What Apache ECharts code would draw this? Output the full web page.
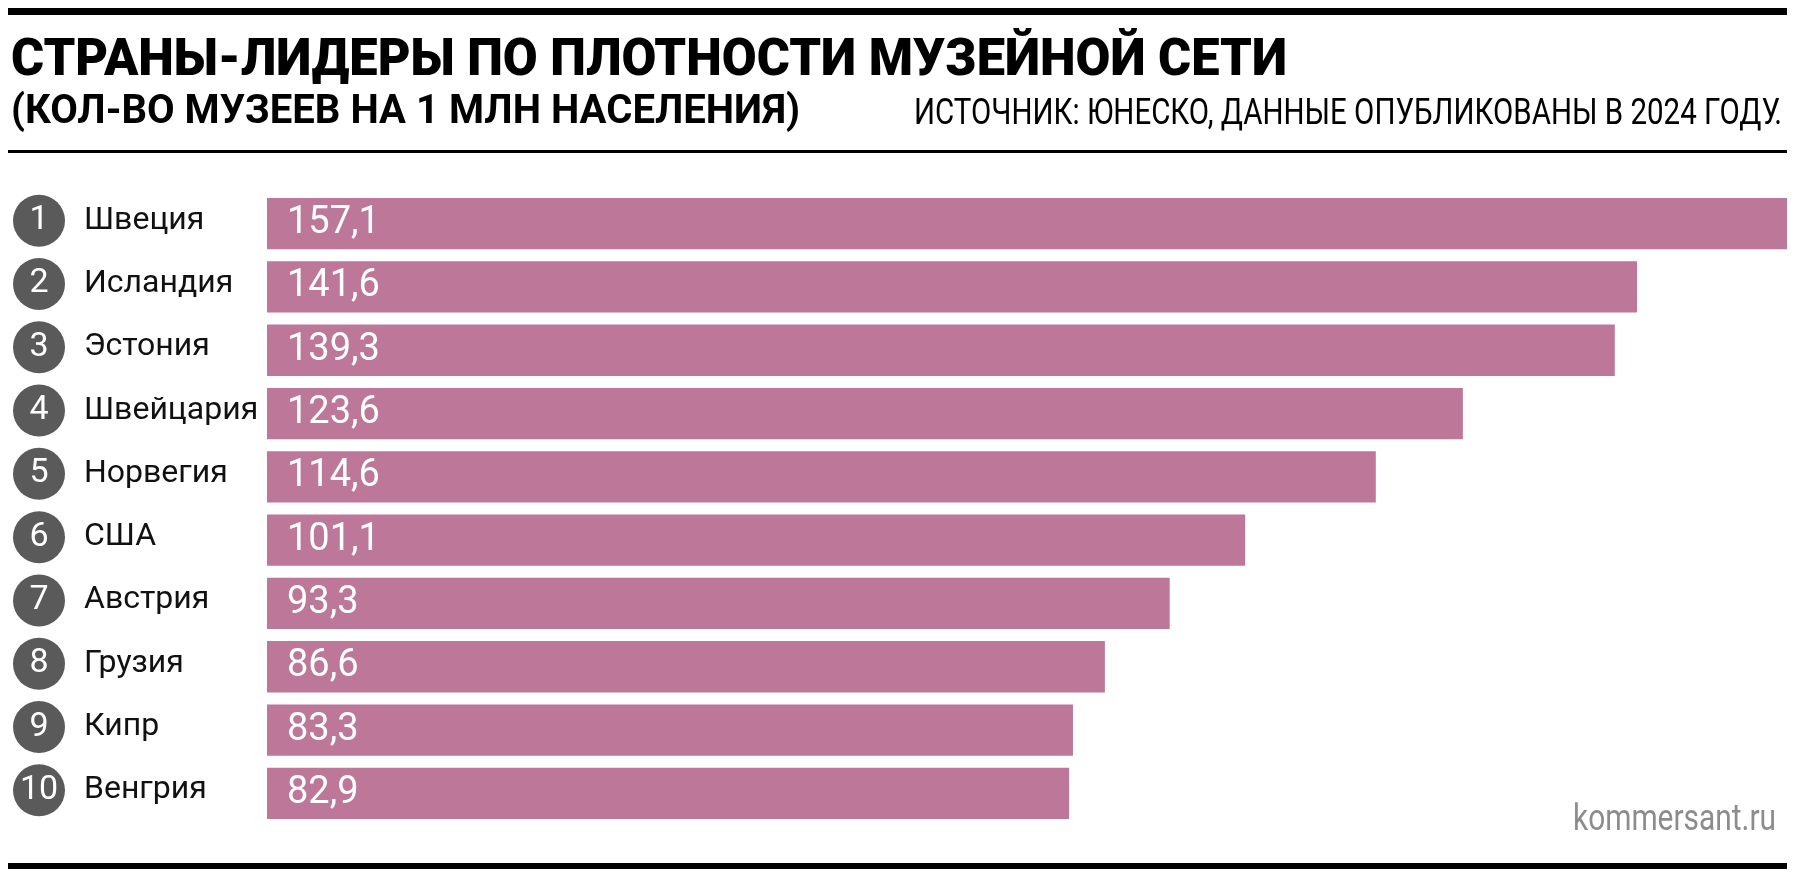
<!DOCTYPE html>
<html>
<head>
<meta charset="utf-8">
<title>Страны-лидеры по плотности музейной сети</title>
<script src="https://cdn.jsdelivr.net/npm/echarts@6/dist/echarts.min.js"></script>
<style>
  html, body { margin: 0; padding: 0; background: #fff; }
  #chart { width: 1798px; height: 884px; }
</style>
</head>
<body>
<div id="chart"></div>
<script>
// данные
var countries = ['Швеция', 'Исландия', 'Эстония', 'Швейцария', 'Норвегия', 'США', 'Австрия', 'Грузия', 'Кипр', 'Венгрия'];
var museums = [157.1, 141.6, 139.3, 123.6, 114.6, 101.1, 93.3, 86.6, 83.3, 82.9];
var ranks = ['1', '2', '3', '4', '5', '6', '7', '8', '9', '10'];

var titleText = 'СТРАНЫ-ЛИДЕРЫ ПО ПЛОТНОСТИ МУЗЕЙНОЙ СЕТИ';
var subtitleText = '(КОЛ-ВО МУЗЕЕВ НА 1 МЛН НАСЕЛЕНИЯ)';
var sourceText = 'ИСТОЧНИК: ЮНЕСКО, ДАННЫЕ ОПУБЛИКОВАНЫ В 2024 ГОДУ.';
var siteText = 'kommersant.ru';

// сжимаем шрифт по ширине, как узкий гротеск в оригинале
var measureCtx = document.createElement('canvas').getContext('2d');
function fit(text, font, width) {
    measureCtx.font = font;
    return width / measureCtx.measureText(text).width;
}

var myChart = echarts.init(document.getElementById('chart'), null, { renderer: 'canvas' });

var option = {
    backgroundColor: '#fff',
    animation: false,
    grid: {
        left: 267,
        right: 11,
        top: 192,
        bottom: 59,
        containLabel: false,
        outerBoundsMode: 'none'
    },
    xAxis: {
        type: 'value',
        min: 0,
        max: Math.max.apply(null, museums),
        show: false
    },
    yAxis: {
        type: 'category',
        data: countries,
        inverse: true,
        axisLine: { show: false },
        axisTick: { show: false },
        splitLine: { show: false },
        axisLabel: {
            align: 'left',
            margin: 254,
            padding: [0, 0, 6, 0],
            formatter: function (value, index) {
                return '{b|' + ranks[index] + '}{n|' + value + '}';
            },
            rich: {
                b: {
                    width: 52,
                    height: 52,
                    lineHeight: 52,
                    borderRadius: 26,
                    backgroundColor: '#5a5a5a',
                    color: '#fff',
                    align: 'center',
                    fontFamily: 'Roboto',
                    fontSize: 34
                },
                n: {
                    color: '#111',
                    fontFamily: 'Roboto',
                    fontSize: 32,
                    padding: [0, 0, 0, 19]
                }
            }
        }
    },
    series: [
        {
            type: 'bar',
            data: museums,
            barCategoryGap: '19%',
            itemStyle: { color: '#bc7799' },
            label: {
                show: true,
                position: 'insideLeft',
                distance: 20,
                color: '#fff',
                fontFamily: 'Roboto',
                fontSize: 38,
                formatter: function (p) {
                    return String(p.value).replace('.', ',');
                }
            }
        }
    ],
    graphic: [
        { type: 'rect', shape: { x: 8, y: 8, width: 1779, height: 7 }, style: { fill: '#000' } },
        {
            type: 'text', x: 11, y: 62,
            scaleX: fit(titleText, '900 52px Roboto', 1276),
            style: { text: titleText, fontFamily: 'Roboto', fontWeight: 900, fontSize: 52, fill: '#000', verticalAlign: 'middle' }
        },
        {
            type: 'text', x: 11, y: 113,
            scaleX: fit(subtitleText, 'bold 41px Roboto', 789),
            style: { text: subtitleText, fontFamily: 'Roboto', fontWeight: 'bold', fontSize: 41, fill: '#000', verticalAlign: 'middle' }
        },
        {
            type: 'text', x: 1782, y: 115,
            scaleX: fit(sourceText, '37px Roboto', 868),
            style: { text: sourceText, fontFamily: 'Roboto', fontSize: 37, fill: '#000', align: 'right', verticalAlign: 'middle' }
        },
        { type: 'rect', shape: { x: 8, y: 150, width: 1779, height: 3 }, style: { fill: '#000' } },
        {
            type: 'text', x: 1776, y: 821,
            scaleX: fit(siteText, '37px Roboto', 203),
            style: { text: siteText, fontFamily: 'Roboto', fontSize: 37, fill: '#8c8c8c', align: 'right', verticalAlign: 'middle' }
        },
        { type: 'rect', shape: { x: 8, y: 863, width: 1779, height: 6 }, style: { fill: '#000' } }
    ]
};

myChart.setOption(option);
</script>
</body>
</html>
